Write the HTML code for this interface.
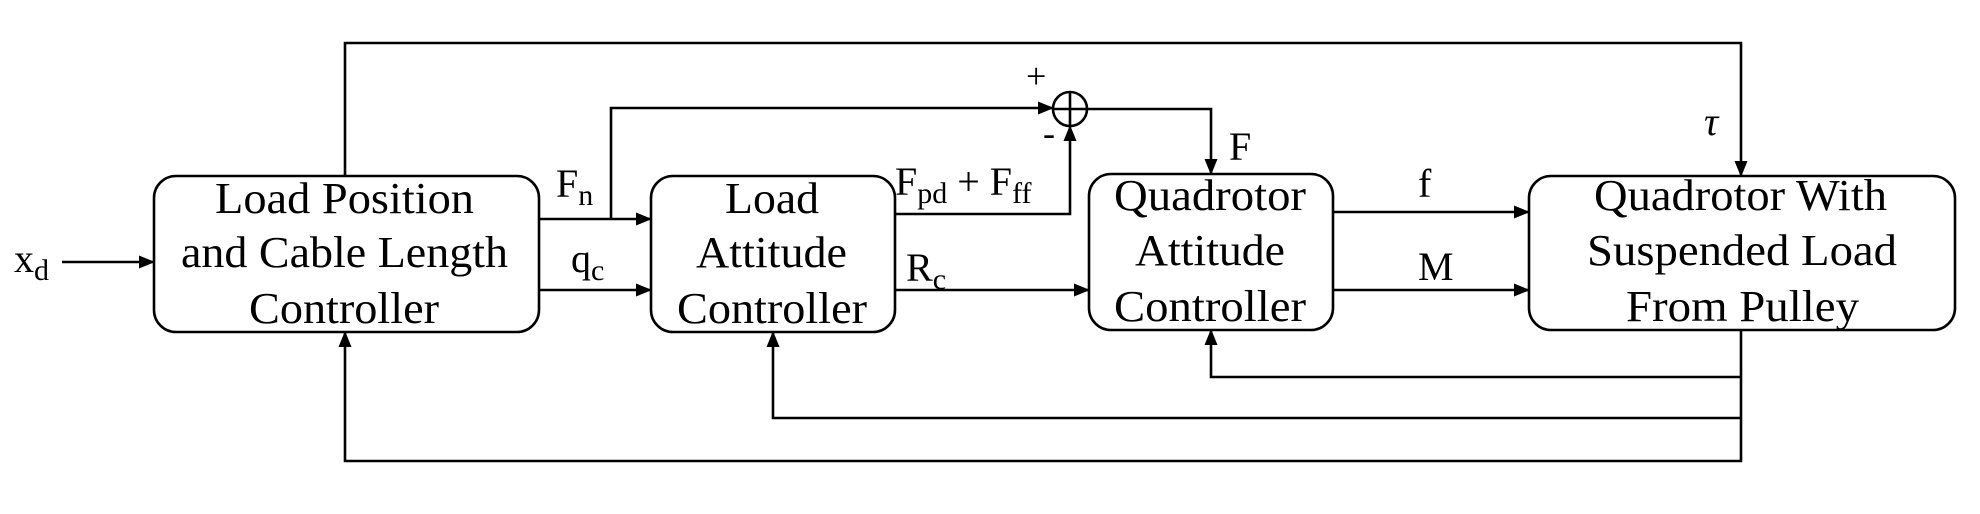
<!DOCTYPE html>
<html><head><meta charset="utf-8"><style>
html,body{margin:0;padding:0;background:#fff;}
svg{display:block;}
text{font-family:"Liberation Serif",serif;fill:#000;}
</style></head><body>
<svg width="1980" height="514" viewBox="0 0 1980 514" xmlns="http://www.w3.org/2000/svg">
<defs>
<marker id="a" markerWidth="16" markerHeight="13" refX="15" refY="6.5" orient="auto" markerUnits="userSpaceOnUse">
<path d="M0,0 L16,6.5 L0,13 Z" fill="#000"/>
</marker>
</defs>
<g fill="none" stroke="#000" stroke-width="2.6">
<rect x="154" y="176" width="385" height="156" rx="22"/>
<rect x="651" y="176" width="244" height="156" rx="22"/>
<rect x="1089" y="174" width="244" height="156" rx="22"/>
<rect x="1529" y="176" width="426" height="154" rx="22"/>
<circle cx="1070" cy="109" r="17"/>
<line x1="1053" y1="109" x2="1087" y2="109"/>
<line x1="1070" y1="92" x2="1070" y2="126"/>
<line x1="62" y1="262" x2="154" y2="262" marker-end="url(#a)"/>
<line x1="539" y1="219" x2="651" y2="219" marker-end="url(#a)"/>
<line x1="539" y1="290" x2="651" y2="290" marker-end="url(#a)"/>
<polyline points="611,219 611,108 1053,108" marker-end="url(#a)"/>
<polyline points="895,214 1070,214 1070,126" marker-end="url(#a)"/>
<polyline points="1087,109 1211,109 1211,174" marker-end="url(#a)"/>
<line x1="895" y1="290" x2="1089" y2="290" marker-end="url(#a)"/>
<line x1="1333" y1="212" x2="1529" y2="212" marker-end="url(#a)"/>
<line x1="1333" y1="290" x2="1529" y2="290" marker-end="url(#a)"/>
<polyline points="345,176 345,43 1741,43 1741,176" marker-end="url(#a)"/>
<polyline points="1741,330 1741,461 345,461 345,332" marker-end="url(#a)"/>
<polyline points="1741,377 1211,377 1211,330" marker-end="url(#a)"/>
<polyline points="1741,418 773,418 773,332" marker-end="url(#a)"/>
</g>
<g font-size="44">
<text x="215" y="213" textLength="259" lengthAdjust="spacingAndGlyphs">Load Position</text>
<text x="181" y="267" textLength="327" lengthAdjust="spacingAndGlyphs">and Cable Length</text>
<text x="249" y="323" textLength="190" lengthAdjust="spacingAndGlyphs">Controller</text>
<text x="725" y="213" textLength="94" lengthAdjust="spacingAndGlyphs">Load</text>
<text x="696" y="267" textLength="151" lengthAdjust="spacingAndGlyphs">Attitude</text>
<text x="677" y="323" textLength="190" lengthAdjust="spacingAndGlyphs">Controller</text>
<text x="1114" y="210" textLength="192" lengthAdjust="spacingAndGlyphs">Quadrotor</text>
<text x="1135" y="265" textLength="150" lengthAdjust="spacingAndGlyphs">Attitude</text>
<text x="1114" y="321" textLength="192" lengthAdjust="spacingAndGlyphs">Controller</text>
<text x="1594" y="210" textLength="293" lengthAdjust="spacingAndGlyphs">Quadrotor With</text>
<text x="1587" y="265" textLength="310" lengthAdjust="spacingAndGlyphs">Suspended Load</text>
<text x="1626" y="321" textLength="233" lengthAdjust="spacingAndGlyphs">From Pulley</text>
</g>
<g font-size="40">
<text x="14" y="272">x<tspan font-size="30" dy="8">d</tspan></text>
<text x="556" y="197">F<tspan font-size="30" dy="8">n</tspan></text>
<text x="571" y="272">q<tspan font-size="30" dy="8">c</tspan></text>
<text x="895" y="195">F<tspan font-size="30" dy="8">pd</tspan><tspan dy="-8"> + F</tspan><tspan font-size="30" dy="8">ff</tspan></text>
<text x="906" y="281">R<tspan font-size="30" dy="8">c</tspan></text>
<text x="1229" y="160">F</text>
<text x="1418" y="197">f</text>
<text x="1418" y="280">M</text>
<text x="1704" y="135" font-style="italic">τ</text>
<text x="1026" y="88" font-size="36">+</text>
<text x="1043" y="145" font-size="36">-</text>
</g>
</svg>
</body></html>
